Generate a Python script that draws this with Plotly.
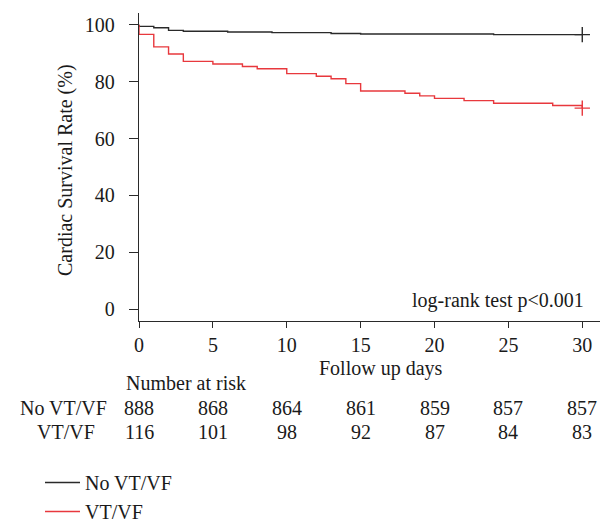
import plotly.graph_objects as go

# ---- data ----
no_vt_days = [0, 0, 1, 2, 3, 6, 9, 13, 15, 24, 30]
no_vt_surv = [100, 99.4, 98.9, 98.0, 97.7, 97.4, 97.2, 96.9, 96.7, 96.5, 96.5]

vt_days = [0, 0, 1, 2, 3, 5, 7, 8, 10, 12, 13, 14, 15, 18, 19, 20, 22, 24, 28, 30]
vt_surv = [100, 96.6, 92.2, 89.7, 87.1, 86.2, 85.3, 84.5, 82.8, 81.9, 81.0, 79.3,
           76.7, 75.9, 75.0, 74.1, 73.3, 72.4, 71.6, 70.7]

risk_days = [0, 5, 10, 15, 20, 25, 30]
risk_no_vt = [888, 868, 864, 861, 859, 857, 857]
risk_vt = [116, 101, 98, 92, 87, 84, 83]

x_ticks = [0, 5, 10, 15, 20, 25, 30]
y_ticks = [0, 20, 40, 60, 80, 100]

BLACK = "#2a2a2a"
RED = "#e8383d"
FONT = "Liberation Serif"
FS = 20

W, H = 615, 532
L, R, T, B = 139, 15, 13, 211
PW, PH = W - L - R, H - T - B


def px(xp):
    return (xp - L) / PW


def py(yp):
    return (H - B - yp) / PH


fig = go.Figure()
fig.add_trace(go.Scatter(x=no_vt_days, y=no_vt_surv, mode="lines", line=dict(shape="hv", color=BLACK, width=1.4),
                         name="No VT/VF"))
fig.add_trace(go.Scatter(x=vt_days, y=vt_surv, mode="lines", line=dict(shape="hv", color=RED, width=1.4),
                         name="VT/VF"))
fig.add_trace(go.Scatter(x=[no_vt_days[-1]], y=[no_vt_surv[-1]], mode="markers", showlegend=False,
                         marker=dict(symbol="cross-thin", size=11, line=dict(color=BLACK, width=1.4))))
fig.add_trace(go.Scatter(x=[vt_days[-1]], y=[vt_surv[-1]], mode="markers", showlegend=False,
                         marker=dict(symbol="cross-thin", size=11, line=dict(color=RED, width=1.4))))

annots = []
# y-axis title
annots.append(dict(text="Cardiac Survival Rate (%)", x=px(65), y=py(170), xref="paper", yref="paper",
                   textangle=-90, showarrow=False, xanchor="center", yanchor="middle"))
annots.append(dict(text="log-rank test p<0.001", x=px(586), y=py(300), xref="paper", yref="paper",
                   showarrow=False, xanchor="right", yanchor="middle"))
annots.append(dict(text="Follow up days", x=px(381), y=py(368), xref="paper", yref="paper",
                   showarrow=False, xanchor="center", yanchor="middle"))
annots.append(dict(text="Number at risk", x=px(186), y=py(383), xref="paper", yref="paper",
                   showarrow=False, xanchor="center", yanchor="middle"))
annots.append(dict(text="No VT/VF", x=px(63), y=py(408), xref="paper", yref="paper",
                   showarrow=False, xanchor="center", yanchor="middle"))
annots.append(dict(text="VT/VF", x=px(66), y=py(432), xref="paper", yref="paper",
                   showarrow=False, xanchor="center", yanchor="middle"))
for d, n in zip(risk_days, risk_no_vt):
    annots.append(dict(text=str(n), x=d, y=py(408), xref="x", yref="paper",
                       showarrow=False, xanchor="center", yanchor="middle"))
for d, n in zip(risk_days, risk_vt):
    annots.append(dict(text=str(n), x=d, y=py(432), xref="x", yref="paper",
                       showarrow=False, xanchor="center", yanchor="middle"))

fig.update_layout(
    width=W, height=H,
    margin=dict(l=L, r=R, t=T, b=B, pad=0, autoexpand=False),
    paper_bgcolor="white", plot_bgcolor="white",
    font=dict(family=FONT, size=FS, color="#1a1a1a"),
    showlegend=True,
    legend=dict(xref="container", yref="container", x=40 / W, y=1 - 463 / H,
                xanchor="left", yanchor="top", bgcolor="rgba(0,0,0,0)",
                font=dict(family=FONT, size=FS), tracegroupgap=0, itemwidth=35),
    annotations=annots,
    xaxis=dict(range=[0, 31.2], tickvals=x_ticks, ticks="outside", ticklen=6, tickwidth=1.2,
               tickcolor=BLACK, showline=True, linecolor=BLACK, linewidth=1.3, showgrid=False,
               zeroline=False, ticklabelstandoff=0),
    yaxis=dict(range=[-4.1, 104.1], tickvals=y_ticks, ticks="outside", ticklen=9, tickwidth=1.2,
               tickcolor=BLACK, showline=True, linecolor=BLACK, linewidth=1.3, showgrid=False,
               zeroline=False, ticklabelstandoff=10),
)

fig.write_html("out.html", config={"displayModeBar": False},
               post_script="document.body.style.margin='0';document.body.style.overflow='hidden';")
